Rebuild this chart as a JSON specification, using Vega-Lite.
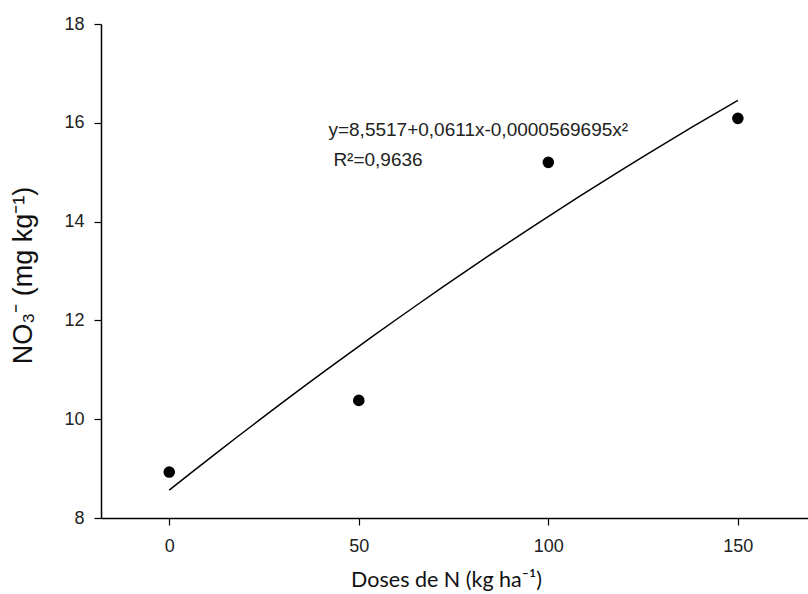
{
  "$schema": "https://vega.github.io/schema/vega-lite/v6.json",
  "width": 707,
  "height": 494,
  "autosize": {"type": "none"},
  "padding": {"left": 101, "top": 24, "right": 0, "bottom": 76},
  "background": "white",
  "config": {
    "view": {"stroke": null},
    "axis": {
      "grid": false,
      "domainColor": "#000",
      "domainWidth": 1.5,
      "tickColor": "#000",
      "tickWidth": 1.2,
      "tickSize": 7,
      "labelFont": "Liberation Sans",
      "labelFontSize": 18,
      "labelColor": "#222",
      "titleColor": "#111",
      "titleFontWeight": "normal"
    }
  },
  "datasets": {
    "obs": [
      {"dose": 0, "no3": 8.93},
      {"dose": 50, "no3": 10.38},
      {"dose": 100, "no3": 15.2},
      {"dose": 150, "no3": 16.09}
    ],
    "notes": [
      {"dose": 42, "no3": 15.85, "label": "y=8,5517+0,0611x-0,0000569695x²"},
      {"dose": 43.3, "no3": 15.25, "label": "R²=0,9636"}
    ]
  },
  "layer": [
    {
      "data": {"name": "obs"},
      "transform": [
        {"regression": "no3", "on": "dose", "method": "poly", "order": 2, "extent": [0, 150]}
      ],
      "mark": {"type": "line", "color": "#000", "strokeWidth": 1.5},
      "encoding": {
        "x": {
          "field": "dose",
          "type": "quantitative",
          "scale": {"domain": [-18, 168.5], "nice": false, "zero": false},
          "axis": {
            "values": [0, 50, 100, 150],
            "labelPadding": 12,
            "title": "Doses de N (kg ha⁻¹)",
            "titleFont": "Lato",
            "titleFontSize": 21.5,
            "titleX": 345,
            "titleY": 62,
            "titleBaseline": "middle",
            "titleAlign": "center"
          }
        },
        "y": {
          "field": "no3",
          "type": "quantitative",
          "scale": {"domain": [8, 18], "nice": false, "zero": false},
          "axis": {
            "values": [8, 10, 12, 14, 16, 18],
            "labelPadding": 10,
            "title": "NO₃⁻ (mg kg⁻¹)",
            "titleFont": "Liberation Sans",
            "titleFontSize": 27,
            "titleAngle": -90,
            "titleX": -78,
            "titleY": 251,
            "titleBaseline": "middle",
            "titleAlign": "center"
          }
        }
      }
    },
    {
      "data": {"name": "obs"},
      "mark": {"type": "point", "filled": true, "color": "#000", "size": 135, "opacity": 1},
      "encoding": {
        "x": {"field": "dose", "type": "quantitative"},
        "y": {"field": "no3", "type": "quantitative"}
      }
    },
    {
      "data": {"name": "notes"},
      "mark": {"type": "text", "align": "left", "baseline": "middle", "font": "Liberation Sans", "fontSize": 19, "color": "#222"},
      "encoding": {
        "x": {"field": "dose", "type": "quantitative"},
        "y": {"field": "no3", "type": "quantitative"},
        "text": {"field": "label"}
      }
    }
  ]
}
